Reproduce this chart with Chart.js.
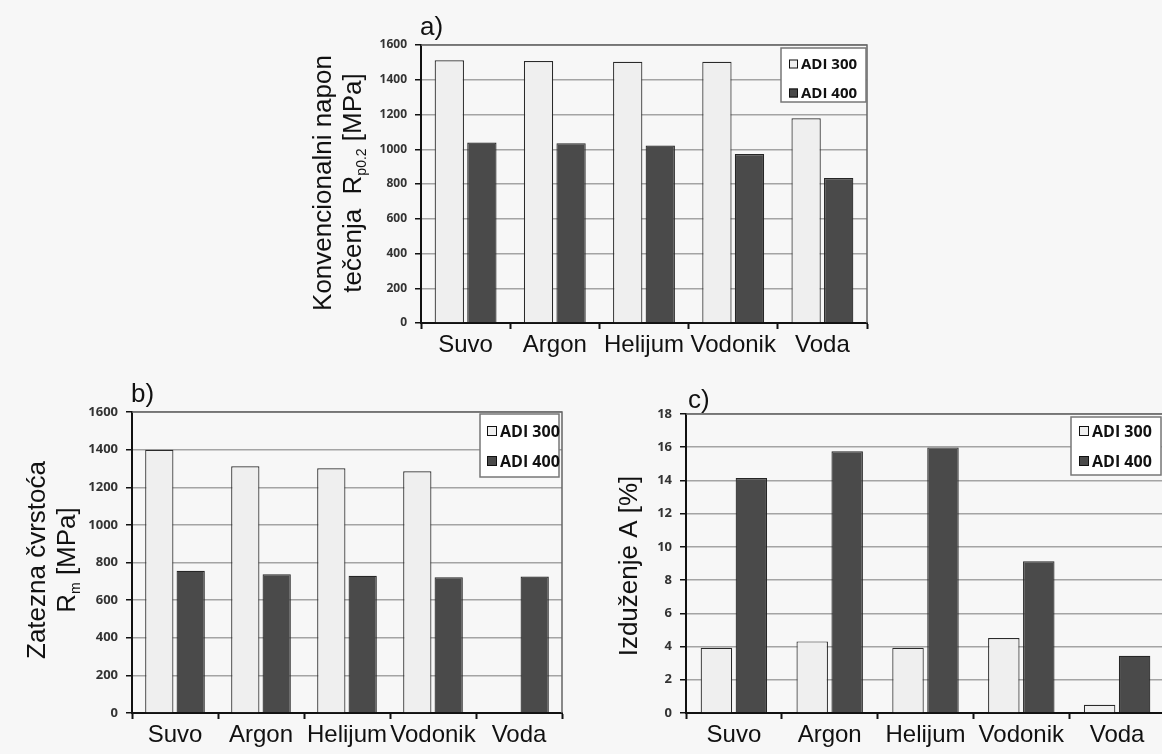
<!DOCTYPE html>
<html>
<head>
<meta charset="utf-8">
<script src="https://cdn.jsdelivr.net/npm/chart.js@4.4.1/dist/chart.umd.min.js"></script>
<style>
  html, body { margin: 0; padding: 0; background: #f7f7f7; width: 1162px; height: 754px; overflow: hidden; }
  canvas { position: absolute; }
</style>
</head>
<body>
<canvas id="chartA" width="590" height="370" style="left:290px;top:0px"></canvas>
<canvas id="chartB" width="580" height="384" style="left:0px;top:370px"></canvas>
<canvas id="chartC" width="600" height="384" style="left:580px;top:370px"></canvas>
<script>
// Kategorije i serije (očitano sa slike)
const categories = ["Suvo", "Argon", "Helijum", "Vodonik", "Voda"];
const seriesNames = ["ADI 300", "ADI 400"];

// a) Konvencionalni napon tečenja Rp0.2 [MPa]
const yieldAdi300 = [1512, 1508, 1504, 1504, 1178];
const yieldAdi400 = [1039, 1035, 1021, 973, 834];

// b) Zatezna čvrstoća Rm [MPa]
const tensileAdi300 = [1399, 1312, 1301, 1285, null];
const tensileAdi400 = [756, 738, 729, 722, 725];

// c) Izduženje A [%]
const elongAdi300 = [3.93, 4.31, 3.93, 4.51, 0.5];
const elongAdi400 = [14.15, 15.76, 15.99, 9.14, 3.44];

const LIGHT = "#efefef";
const DARK = "#4a4a4a";
const SANS = '"Liberation Sans", Arial, sans-serif';
const TICK_FONT = '"Open Sans", sans-serif';

// okvir, oznaka panela, naslov y ose i legenda
const decor = {
  id: "decor",
  afterDraw(chart, args, o) {
    const { ctx, chartArea: a } = chart;
    ctx.save();
    ctx.strokeStyle = "#666";
    ctx.lineWidth = 1.5;
    ctx.beginPath();
    ctx.moveTo(a.left, a.top);
    ctx.lineTo(a.right, a.top);
    ctx.lineTo(a.right, a.bottom);
    ctx.stroke();

    ctx.fillStyle = "#111";
    ctx.textAlign = "left";
    ctx.textBaseline = "alphabetic";
    ctx.font = `${o.panelSize}px ${SANS}`;
    ctx.fillText(o.panel, o.panelX, o.panelY);

    // naslov y ose, rotiran, sa indeksima
    o.title.forEach((line) => {
      ctx.save();
      ctx.translate(line.x, o.titleY);
      ctx.rotate(-Math.PI / 2);
      const big = `${o.titleSize}px ${SANS}`;
      const small = `${Math.round(o.titleSize * 0.55)}px ${SANS}`;
      let w = 0;
      line.parts.forEach((p) => { ctx.font = p.sub ? small : big; w += ctx.measureText(p.t).width; });
      let x = -w / 2;
      ctx.textBaseline = "middle";
      line.parts.forEach((p) => {
        ctx.font = p.sub ? small : big;
        ctx.fillText(p.t, x, p.sub ? o.titleSize * 0.3 : 0);
        x += ctx.measureText(p.t).width;
      });
      ctx.restore();
    });

    // legenda
    const L = o.legend;
    const bx = a.right - L.right - L.w;
    const by = a.top + L.top;
    ctx.fillStyle = "#ffffff";
    ctx.fillRect(bx, by, L.w, L.h);
    ctx.strokeStyle = "#777";
    ctx.lineWidth = 1.5;
    ctx.strokeRect(bx, by, L.w, L.h);
    ctx.font = `bold ${L.size}px ${TICK_FONT}`;
    ctx.textBaseline = "middle";
    chart.data.datasets.forEach((ds, i) => {
      const cy = by + L.rows[i];
      const s = L.swatch;
      ctx.fillStyle = ds.backgroundColor;
      ctx.fillRect(bx + L.pad, cy - s / 2, s, s);
      ctx.strokeStyle = "#111";
      ctx.lineWidth = 1;
      ctx.strokeRect(bx + L.pad + 0.5, cy - s / 2 + 0.5, s - 1, s - 1);
      ctx.fillStyle = "#111";
      ctx.fillText(ds.label, bx + L.pad + s + 3, cy + 1);
    });
    ctx.restore();
  },
};

function makeChart(id, d300, d400, yMax, yStep, lay) {
  return new Chart(document.getElementById(id), {
    type: "bar",
    data: {
      labels: categories,
      datasets: [
        { label: seriesNames[0], data: d300, backgroundColor: LIGHT, borderColor: "#2a2a2a", borderWidth: 1.2 },
        { label: seriesNames[1], data: d400, backgroundColor: DARK, borderColor: "#262626", borderWidth: 1.2 },
      ],
    },
    options: {
      responsive: false,
      animation: false,
      devicePixelRatio: 1,
      layout: { padding: { left: 0, top: lay.top, right: lay.right, bottom: 0 } },
      datasets: { bar: { categoryPercentage: 0.73, barPercentage: 0.9 } },
      plugins: { legend: { display: false }, tooltip: { enabled: false }, decor: lay.decor },
      scales: {
        x: {
          grid: { offset: true, drawOnChartArea: false, drawTicks: true, tickLength: 6, tickColor: "#111", tickWidth: 2 },
          border: { color: "#111", width: 2 },
          ticks: { color: "#111", font: { family: SANS, size: 24 }, padding: 2, maxRotation: 0, autoSkip: false },
          afterFit(s) { s.height = lay.xh; },
        },
        y: {
          min: 0,
          max: yMax,
          ticks: {
            stepSize: yStep,
            color: "#333",
            font: { family: TICK_FONT, size: lay.tickSize, weight: "bold" },
            padding: 8,
            callback: (v) => String(v),
          },
          grid: { color: "#a4a4a4", lineWidth: 1.5, tickColor: "#111", tickLength: 6, tickWidth: 1.5 },
          border: { color: "#111", width: 2 },
          afterFit(s) { s.width = lay.yw; },
        },
      },
    },
    plugins: [decor],
  });
}

makeChart("chartA", yieldAdi300, yieldAdi400, 1600, 200, {
  top: 45, right: 13, yw: 131, xh: 47, tickSize: 12,
  decor: {
    panel: "a)", panelX: 130, panelY: 35, panelSize: 26,
    titleSize: 26, titleY: 183,
    title: [
      { x: 34, parts: [{ t: "Konvencionalni napon" }] },
      { x: 64, parts: [{ t: "tečenja  R" }, { t: "p0.2", sub: true }, { t: " [MPa]" }] },
    ],
    legend: { right: 1, top: 3, w: 85, h: 54, rows: [16, 45], size: 15, swatch: 9, pad: 8 },
  },
});

makeChart("chartB", tensileAdi300, tensileAdi400, 1600, 200, {
  top: 42, right: 18, yw: 132, xh: 41, tickSize: 13,
  decor: {
    panel: "b)", panelX: 131, panelY: 32, panelSize: 26,
    titleSize: 26, titleY: 190,
    title: [
      { x: 38, parts: [{ t: "Zatezna čvrstoća" }] },
      { x: 68, parts: [{ t: "R" }, { t: "m", sub: true }, { t: " [MPa]" }] },
    ],
    legend: { right: 3, top: 2, w: 79, h: 63, rows: [17, 47], size: 16, swatch: 10, pad: 7 },
  },
});

makeChart("chartC", elongAdi300, elongAdi400, 18, 2, {
  top: 44, right: 15, yw: 106, xh: 41, tickSize: 13,
  decor: {
    panel: "c)", panelX: 108, panelY: 38, panelSize: 26,
    titleSize: 26, titleY: 196,
    title: [
      { x: 50, parts: [{ t: "Izduženje A [%]" }] },
    ],
    legend: { right: 4, top: 3, w: 90, h: 58, rows: [14, 44], size: 16, swatch: 10, pad: 8 },
  },
});
</script>
</body>
</html>
